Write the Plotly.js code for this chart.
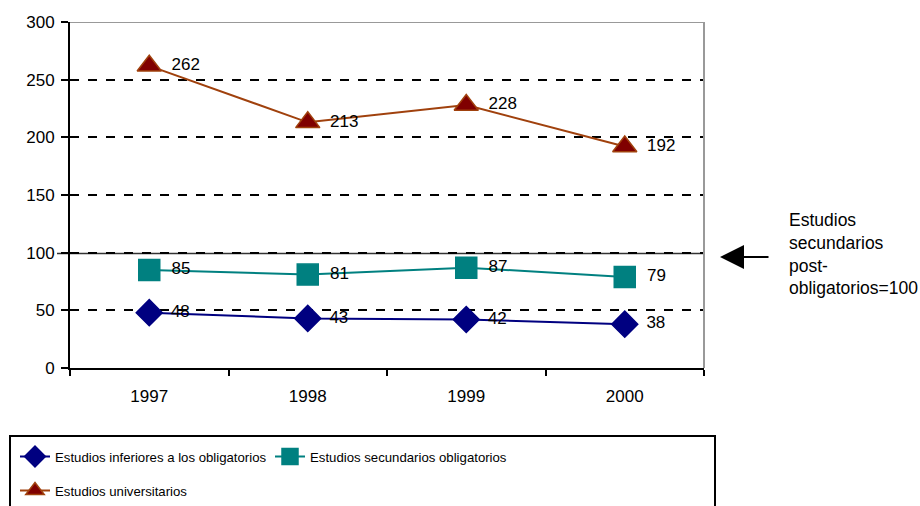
<!DOCTYPE html>
<html><head><meta charset="utf-8">
<script src="https://cdn.plot.ly/plotly-3.0.1.min.js"></script>
<style>html,body{margin:0;padding:0;background:#fff}</style>
</head><body>
<div id="chart" style="width:920px;height:506px"></div>
<script>
const years = ['1997', '1998', '1999', '2000'];
const inferiores = [48, 43, 42, 38];
const secundariosOblig = [85, 81, 87, 79];
const universitarios = [262, 213, 228, 192];
const names = ['Estudios inferiores a los obligatorios', 'Estudios secundarios obligatorios', 'Estudios universitarios'];
const yTicks = [0, 50, 100, 150, 200, 250, 300];

const FONT = '"Liberation Sans", Arial, sans-serif';
const NB = '\u00a0\u2009';

const W = 920, H = 506, L = 70, R = 216, T = 22, B = 138;
const pw = W - L - R, ph = H - T - B;
const px = v => (v - L) / pw;      // pixel -> paper x
const py = v => (H - B - v) / ph;  // pixel -> paper y

function tr(y, name, color, symbol, size, mcolor, lcolor, legend) {
  return {
    x: years, y: y, name: name, type: 'scatter', mode: 'lines+markers+text',
    text: y.map(v => NB + v), textposition: 'middle right',
    textfont: {family: FONT, size: 17, color: '#000'},
    line: {color: color, width: 2},
    marker: {symbol: symbol, size: size, color: mcolor, line: {color: lcolor, width: 1.5}},
    cliponaxis: false, legend: legend
  };
}

const data = [
  tr(inferiores, names[0], '#000080', 'diamond', 20, '#000080', '#000080', 'legend'),
  tr(secundariosOblig, names[1], '#008080', 'square', 21, '#008080', '#008080', 'legend'),
  tr(universitarios, names[2], '#A0410D', 'triangle-up', 21, '#800000', '#A0410D', 'legend2')
];

const legFont = {family: FONT, size: 13.2, color: '#000'};

const layout = {
  width: W, height: H,
  margin: {l: L, r: R, t: T, b: B, autoexpand: false},
  paper_bgcolor: '#fff', plot_bgcolor: '#fff',
  font: {family: FONT, size: 17, color: '#000'},
  showlegend: true,
  legend: {
    orientation: 'h', x: px(15), y: py(457), xanchor: 'left', yanchor: 'middle',
    font: legFont, bgcolor: 'rgba(0,0,0,0)', borderwidth: 0, entrywidth: 210
  },
  legend2: {
    orientation: 'h', x: px(15), y: py(491), xanchor: 'left', yanchor: 'middle',
    font: legFont, bgcolor: 'rgba(0,0,0,0)', borderwidth: 0
  },
  xaxis: {
    type: 'category', range: [-0.5, 3.5], tickson: 'boundaries', ticks: 'outside', ticklen: 6, tickwidth: 2,
    tickcolor: '#000', showline: true, linecolor: '#000', linewidth: 2,
    showgrid: false, zeroline: false, fixedrange: true, ticklabelstandoff: 12,
    tickfont: {family: FONT, size: 17, color: '#000'}
  },
  yaxis: {
    range: [0, 300], tickvals: yTicks, ticks: 'outside', ticklen: 7, tickwidth: 2,
    tickcolor: '#000', showline: true, linecolor: '#000', linewidth: 2,
    showgrid: true, gridcolor: '#000', gridwidth: 2, griddash: 'dash',
    zeroline: false, fixedrange: true, ticklabelstandoff: 3,
    tickfont: {family: FONT, size: 17, color: '#000'}
  },
  shapes: [
    {type: 'line', xref: 'paper', yref: 'y', x0: 0, x1: 1, y0: 300, y1: 300, line: {color: '#999', width: 2}, layer: 'above'},
    {type: 'line', xref: 'paper', yref: 'paper', x0: 1, x1: 1, y0: 0, y1: 1, line: {color: '#999', width: 2}, layer: 'above'},
    {type: 'line', xref: 'paper', yref: 'y', x0: px(57), x1: 1, y0: 99.2, y1: 99.2, line: {color: '#333', width: 1.5}, layer: 'below'},
    {type: 'rect', xref: 'paper', yref: 'paper', x0: px(10), x1: px(715), y0: py(436), y1: py(530), line: {color: '#000', width: 2}, fillcolor: 'rgba(0,0,0,0)'}
  ],
  annotations: [
    {xref: 'paper', yref: 'paper', x: px(720), y: py(257), ax: 50, ay: 0, text: '',
     showarrow: true, arrowhead: 2, arrowsize: 2.4, arrowwidth: 2, arrowcolor: '#000'},
    {xref: 'paper', yref: 'paper', x: px(787), y: py(208), xanchor: 'left', yanchor: 'top', align: 'left',
     text: 'Estudios<br>secundarios<br>post-<br>obligatorios=100', showarrow: false,
     font: {family: FONT, size: 17.5, color: '#000'}}
  ]
};

Plotly.newPlot('chart', data, layout, {displayModeBar: false, staticPlot: true});
</script>
</body></html>
